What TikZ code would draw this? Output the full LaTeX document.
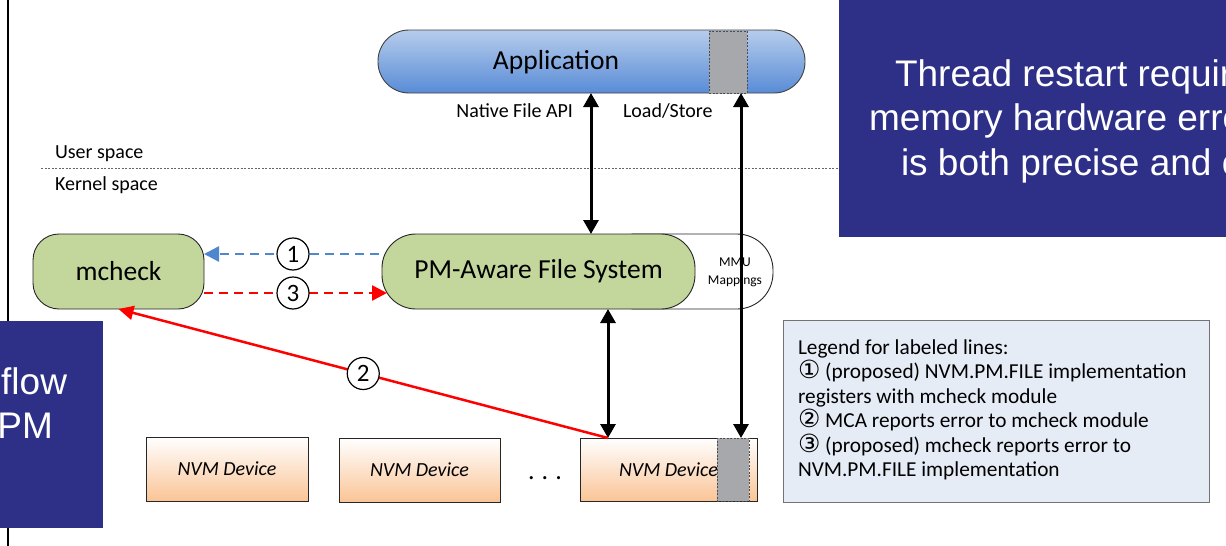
\documentclass[tikz,border=0pt]{standalone}
\usepackage{fontspec}
\setmainfont{Carlito}
\newfontfamily\arialfont{Liberation Sans}
\newfontfamily\symfont{DejaVu Sans}
\usetikzlibrary{arrows.meta}

\definecolor{navy}{RGB}{46,48,136}
\definecolor{boxgreen}{RGB}{195,214,155}
\definecolor{appTop}{RGB}{183,204,236}
\definecolor{appBot}{RGB}{88,140,214}
\definecolor{nvmBot}{RGB}{250,196,150}
\definecolor{legendFill}{RGB}{230,236,246}
\definecolor{bufGray}{RGB}{166,168,172}
\definecolor{flowBlue}{RGB}{78,135,208}
\definecolor{flowRed}{RGB}{255,0,0}

% circled step number as used in the legend text
\newcommand{\stepmark}[1]{{\symfont\fontsize{25}{24}\selectfont #1}}

\begin{document}
\begin{tikzpicture}[x=1pt,y=-1pt,
  every node/.style={inner sep=0pt, outer sep=0pt},
  smalllbl/.style={font=\fontsize{20}{24}\selectfont},
  bigtxt/.style={font=\fontsize{27.5}{33}\selectfont},
  greenbox/.style={draw=black!85, line width=0.9pt, fill=boxgreen, bigtxt, minimum height=75},
  buffer/.style={draw=black!70, dash pattern=on 2pt off 1.5pt, line width=0.8pt, fill=bufGray},
  nvmbox/.style={draw=black!85, line width=0.9pt, top color=white, bottom color=nvmBot,
    font=\fontsize{20}{24}\selectfont\itshape},
  bothway/.style={line width=3pt, {Triangle[length=14pt,width=15pt]}-{Triangle[length=14pt,width=15pt]}},
  flowdash/.style={line width=2.6pt, dash pattern=on 9pt off 6pt, -{Triangle[length=15pt,width=15pt]}},
  numc/.style={circle, solid, draw=black, text=black, line width=1.2pt, fill=white, minimum size=32,
    font=\fontsize{25}{25}\selectfont},
  legendline/.style={anchor=base west, font=\fontsize{21.3}{24}\selectfont},
  notebox/.style={fill=navy, anchor=north west},
  notetxt/.style={text=white, font=\arialfont\fontsize{37}{44}\selectfont}
]
\useasboundingbox (0,0) rectangle (1226,546);

% left margin rule
\draw[line width=2pt] (8,0) -- (8,546);

% user / kernel boundary
\draw[black!60, line width=0.8pt, dash pattern=on 2pt off 1.5pt] (41,168) -- (839,168);
\node[smalllbl, anchor=base west] (user) at (55,158) {User space};
\node[smalllbl, anchor=base west] (kernel) at (55,190) {Kernel space};

% application
\node[draw=black!75, line width=0.9pt, top color=appTop, bottom color=appBot,
      rounded corners=31, minimum width=427, minimum height=63] (app) at (591.5,61.5) {};
\node[font=\fontsize{27.5}{33}\selectfont] (apptxt) at (556,62) {Application};
\node[buffer, minimum width=38, minimum height=62] (appbuf) at (728,62) {};

\node[smalllbl, anchor=base east] (api) at (573,117) {Native File API};
\node[smalllbl, anchor=base west] (ls) at (623,117) {Load/Store};

% kernel components
\node[draw=black!85, line width=0.9pt, fill=white, rounded corners=36,
      minimum width=173, minimum height=75] (mmu) at (686.5,271.5) {};
\node[align=center, font=\fontsize{13.5}{18}\selectfont] (mmutxt) at (735,272) {MMU\\Mappings};
\node[greenbox, rounded corners=34, minimum width=313] (fs) at (538.5,271.5) {PM-Aware File System};
\node[greenbox, rounded corners=26, minimum width=171] (mcheck) at (118.5,271.5) {mcheck};

% devices
\node[nvmbox, minimum width=162, minimum height=64] (nvm1) at (227,469) {NVM Device};
\node[nvmbox, minimum width=161, minimum height=64] (nvm2) at (419.5,470) {NVM Device};
\node[nvmbox, minimum width=177, minimum height=63] (nvm3) at (668.5,469.5) {NVM Device};
\node[buffer, minimum width=32, minimum height=63] (nvmbuf) at (733,469.5) {};
\node[font=\fontsize{26}{26}\selectfont] (dots) at (545,478) {.\hspace{7pt}.\hspace{7pt}.};

% connector columns and rows
\coordinate (xa) at (591,0);
\coordinate (xb) at (608,0);
\coordinate (xc) at (741,0);
\coordinate (ya) at (0,254);
\coordinate (yr) at (0,293);

\draw[bothway] (app.south -| xa) -- (fs.north -| xa);
\draw[bothway] (fs.south -| xb) -- (nvm3.north -| xb);
\draw[bothway] (app.south -| xc) -- (nvm3.north -| xc);

\draw[flowdash, flowBlue, shorten <=3pt] (fs.west |- ya) -- (mcheck.east |- ya)
  node[numc, midway] (n1) {1};
\draw[flowdash, flowRed, shorten >=-5pt] (mcheck.east |- yr) -- (fs.west |- yr)
  node[numc, midway] (n3) {3};
\draw[flowRed, line width=2.5pt, -{Triangle[length=15pt,width=14pt]}] (nvm3.north -| xb) -- (mcheck.south)
  node[numc, pos=0.5] (n2) {2};

% legend
\node[draw=black!55, line width=0.9pt, fill=legendFill, anchor=north west,
      minimum width=426, minimum height=182] (legend) at (783,320) {};
\node[legendline] (lg1) at (798,354) {Legend for labeled lines:};
\node[legendline] (lg2) at (798,378.5) {\stepmark{①} (proposed) NVM.PM.FILE implementation};
\node[legendline] (lg3) at (798,403) {registers with mcheck module};
\node[legendline] (lg4) at (798,427.5) {\stepmark{②} MCA reports error to mcheck module};
\node[legendline] (lg5) at (798,452) {\stepmark{③} (proposed) mcheck reports error to};
\node[legendline] (lg6) at (798,476.5) {NVM.PM.FILE implementation};

% overlaid note panels
\node[notebox, minimum width=387, minimum height=237] (topnote) at (839,0) {};
\node[notetxt, anchor=base west] (t1) at (895,86) {Thread restart requir};
\node[notetxt, anchor=base west] (t2) at (869,130) {memory hardware erro};
\node[notetxt, anchor=base west] (t3) at (901,175) {is both precise and c};

\node[notebox, minimum width=103, minimum height=207] (sidenote) at (0,321) {};
\node[notetxt, anchor=base east] (s1) at (67,394) {flow};
\node[notetxt, anchor=base east] (s2) at (53,438) {PM};
\end{tikzpicture}
\end{document}
